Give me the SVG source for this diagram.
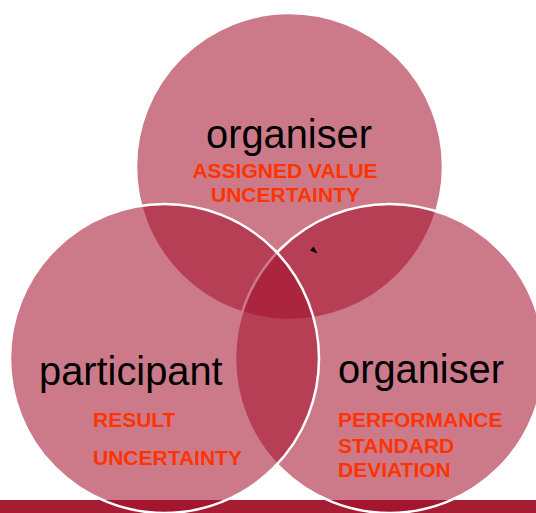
<svg xmlns="http://www.w3.org/2000/svg" width="536" height="513" viewBox="0 0 536 513">
  <style>
    .ring { fill: rgb(164,18,46); fill-opacity: 0.56; stroke: #ffffff; stroke-width: 2.5; }
    .title { font-family: "Liberation Sans", Arial, sans-serif; font-size: 39.8px; fill: #000000; }
    .note { font-family: "Liberation Sans", Arial, sans-serif; font-size: 21px; font-weight: bold; fill: #FF3300; }
  </style>
  <rect width="536" height="513" fill="#ffffff"/>
  <!-- footer band -->
  <rect x="0" y="500" width="536" height="13" fill="#A51C33"/>

  <g id="organiser-top">
    <circle class="ring" cx="289.5" cy="166.5" r="153.5"/>
    <text class="title" x="289" y="148" text-anchor="middle">organiser</text>
    <text class="note" x="285" y="178" text-anchor="middle">ASSIGNED VALUE</text>
    <text class="note" x="285.5" y="202" text-anchor="middle">UNCERTAINTY</text>
  </g>

  <g id="organiser-right">
    <circle class="ring" cx="389.5" cy="358.5" r="154.5"/>
    <text class="title" x="338" y="383">organiser</text>
    <text class="note" x="338" y="427">PERFORMANCE</text>
    <text class="note" x="338" y="453">STANDARD</text>
    <text class="note" x="338" y="477">DEVIATION</text>
  </g>

  <g id="participant">
    <circle class="ring" cx="164.5" cy="358.5" r="154.5"/>
    <text class="title" x="39" y="385">participant</text>
    <text class="note" x="93" y="427">RESULT</text>
    <text class="note" x="93" y="465">UNCERTAINTY</text>
  </g>

  <g id="connectors">
    <polygon points="310,250.5 313.5,246.5 317.5,253.5" fill="#000000"/>
  </g>
</svg>
